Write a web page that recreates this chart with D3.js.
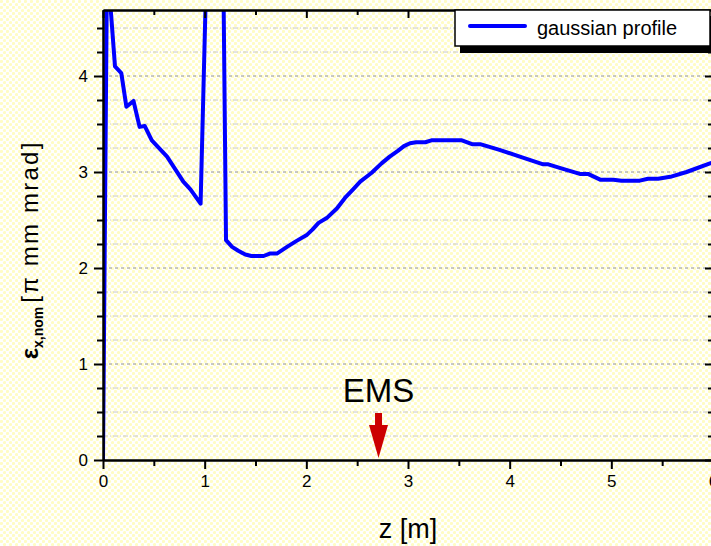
<!DOCTYPE html>
<html><head><meta charset="utf-8">
<script src="https://cdn.jsdelivr.net/npm/d3@7"></script>
<style>
html,body{margin:0;padding:0;background:#fff;}
svg{display:block;}
text{font-family:"Liberation Sans",Arial,sans-serif;fill:#000;}
</style>
</head><body>
<script>
// ---- data ----
const zValues = [0, 0.04, 0.118, 0.18, 0.23, 0.30, 0.36, 0.41, 0.48, 0.63, 0.79, 0.86, 0.96,
  1.05, 1.17, 1.21, 1.27, 1.33, 1.40, 1.46, 1.58, 1.64, 1.71, 1.81, 1.90, 2.00, 2.06, 2.12,
  2.20, 2.30, 2.38, 2.46, 2.53, 2.64, 2.74, 2.82, 2.90, 2.96, 3.02, 3.08, 3.17, 3.23, 3.53,
  3.63, 3.71, 3.90, 4.10, 4.33, 4.38, 4.50, 4.69, 4.77, 4.89, 5.02, 5.10, 5.28, 5.36, 5.46,
  5.58, 5.74, 5.97, 6.0];
const emittance = [0, 5.2, 4.10, 4.03, 3.68, 3.74, 3.47, 3.48, 3.33, 3.16, 2.90, 2.82, 2.67,
  6.5, 6.5, 2.29, 2.22, 2.18, 2.14, 2.125, 2.125, 2.15, 2.15, 2.22, 2.28, 2.34, 2.40, 2.47,
  2.52, 2.62, 2.73, 2.82, 2.90, 2.99, 3.09, 3.16, 3.22, 3.27, 3.30, 3.31, 3.31, 3.33, 3.33,
  3.29, 3.29, 3.23, 3.16, 3.08, 3.08, 3.04, 2.98, 2.98, 2.92, 2.92, 2.91, 2.91, 2.93, 2.93,
  2.95, 3.00, 3.09, 3.10];
const seriesName = "gaussian profile";
const xMajorTicks = [0, 1, 2, 3, 4, 5, 6];
const xMinorTicks = [0.5, 1.5, 2.5, 3.5, 4.5, 5.5];
const yMajorTicks = [0, 1, 2, 3, 4];
const yMinorTicks = [0.25, 0.5, 0.75, 1.25, 1.5, 1.75, 2.25, 2.5, 2.75, 3.25, 3.5, 3.75, 4.25, 4.5];
const xDomain = [0, 6];
const yDomain = [0, 4.6875];
const emsPosition = 2.71;
const emsLabel = "EMS";
const xTitle = "z [m]";

// ---- layout ----
const W = 711, H = 546;
const L = 103, R = 713, T = 10, B = 460;

const svg = d3.select("body").append("svg").attr("width", W).attr("height", H);
const defs = svg.append("defs");
const pat = defs.append("pattern").attr("id", "dots").attr("patternUnits", "userSpaceOnUse")
  .attr("width", 6).attr("height", 6);
pat.append("rect").attr("width", 6).attr("height", 6).attr("fill", "#ffffff");
pat.append("circle").attr("cx", 1.5).attr("cy", 1.5).attr("r", 1.6).attr("fill", "#fffcc4");
pat.append("circle").attr("cx", 4.5).attr("cy", 4.5).attr("r", 1.6).attr("fill", "#fffcc4");
defs.append("clipPath").attr("id", "plotclip").append("rect")
  .attr("x", L).attr("y", T).attr("width", R - L).attr("height", B - T);

svg.append("rect").attr("width", W).attr("height", H).attr("fill", "url(#dots)");

const x = d3.scaleLinear().domain(xDomain).range([L, R]);
const y = d3.scaleLinear().domain(yDomain).range([B, T]);

// grid lines
const grid = svg.append("g");
grid.selectAll("line.minor").data(yMinorTicks).enter().append("line")
  .attr("x1", L).attr("x2", R).attr("y1", d => y(d)).attr("y2", d => y(d))
  .attr("stroke", "#c8c8c8").attr("stroke-width", 1).attr("stroke-dasharray", "5,2,1,2");
grid.selectAll("line.major").data(yMajorTicks.filter(d => d > 0)).enter().append("line")
  .attr("x1", L).attr("x2", R).attr("y1", d => y(d)).attr("y2", d => y(d))
  .attr("stroke", "#909090").attr("stroke-width", 1).attr("stroke-dasharray", "3,3");

// curve
const line = d3.line().x((d, i) => x(zValues[i])).y(d => y(d));
svg.append("path").datum(emittance).attr("clip-path", "url(#plotclip)")
  .attr("d", line).attr("fill", "none").attr("stroke", "#0000ff")
  .attr("stroke-width", 4).attr("stroke-linejoin", "round");

// axes
function styleAxis(g) {
  g.select(".domain").attr("stroke", "#000").attr("stroke-width", 2);
  g.selectAll(".tick line").attr("stroke", "#000").attr("stroke-width", 2);
  g.selectAll(".tick text").style("font-size", "17px").attr("fill", "#000")
    .style("font-family", '"Liberation Sans",Arial,sans-serif');
}
svg.append("g").attr("transform", `translate(0,${B})`)
  .call(d3.axisBottom(x).tickValues(xMinorTicks).tickSize(6).tickFormat("").tickSizeOuter(0)).call(styleAxis);
svg.append("g").attr("transform", `translate(0,${B})`)
  .call(d3.axisBottom(x).tickValues(xMajorTicks).tickSize(9).tickPadding(6).tickFormat(d3.format("d")).tickSizeOuter(0)).call(styleAxis);
svg.append("g").attr("transform", `translate(0,${T})`)
  .call(d3.axisTop(x).tickValues(xMinorTicks).tickSize(-5).tickFormat("").tickSizeOuter(0)).call(styleAxis);
svg.append("g").attr("transform", `translate(0,${T})`)
  .call(d3.axisTop(x).tickValues(xMajorTicks).tickSize(-8).tickFormat("").tickSizeOuter(0)).call(styleAxis);
svg.append("g").attr("transform", `translate(${L},0)`)
  .call(d3.axisLeft(y).tickValues(yMinorTicks).tickSize(6).tickFormat("").tickSizeOuter(0)).call(styleAxis);
svg.append("g").attr("transform", `translate(${L},0)`)
  .call(d3.axisLeft(y).tickValues(yMajorTicks).tickSize(9).tickPadding(6).tickFormat(d3.format("d")).tickSizeOuter(0)).call(styleAxis);
svg.append("g").attr("transform", `translate(${R},0)`)
  .call(d3.axisRight(y).tickValues(yMinorTicks).tickSize(-5).tickFormat("").tickSizeOuter(0)).call(styleAxis);
svg.append("g").attr("transform", `translate(${R},0)`)
  .call(d3.axisRight(y).tickValues(yMajorTicks).tickSize(-8).tickFormat("").tickSizeOuter(0)).call(styleAxis);

// x title
svg.append("text").attr("x", (L + R) / 2).attr("y", 538).attr("text-anchor", "middle")
  .style("font-size", "27px").text(xTitle);

// y title
const yt = svg.append("text").attr("transform", "translate(38,251) rotate(-90)")
  .attr("text-anchor", "middle").style("font-size", "24px");
yt.append("tspan").style("font-weight", "bold").text("ε");
yt.append("tspan").style("font-weight", "bold").style("font-size", "14px").attr("dy", 5).text("x,nom");
yt.append("tspan").attr("dy", -5).attr("dx", 4).attr("textLength", 160).attr("lengthAdjust", "spacing").text("[π mm mrad]");

// EMS marker
const ex = x(emsPosition);
const tipY = y(0) - 2;
svg.append("text").attr("x", ex).attr("y", 402).attr("text-anchor", "middle")
  .style("font-size", "33px").text(emsLabel);
svg.append("rect").attr("x", ex - 3.5).attr("y", tipY - 45).attr("width", 7).attr("height", 13).attr("fill", "#cc0000");
svg.append("path").attr("d", `M${ex - 9.5},${tipY - 33} L${ex + 9.5},${tipY - 33} L${ex},${tipY} Z`).attr("fill", "#cc0000");

// legend
const lg = svg.append("g");
lg.append("rect").attr("x", 460).attr("y", 16).attr("width", 255).attr("height", 37).attr("fill", "#000");
lg.append("rect").attr("x", 455).attr("y", 10).attr("width", 255).attr("height", 36)
  .attr("fill", "#fff").attr("stroke", "#000").attr("stroke-width", 1.5);
lg.append("line").attr("x1", 470).attr("x2", 525).attr("y1", 26).attr("y2", 26)
  .attr("stroke", "#0000ff").attr("stroke-width", 4).attr("stroke-linecap", "round");
lg.append("text").attr("x", 537).attr("y", 35).style("font-size", "20px").text(seriesName);
</script>
</body></html>
